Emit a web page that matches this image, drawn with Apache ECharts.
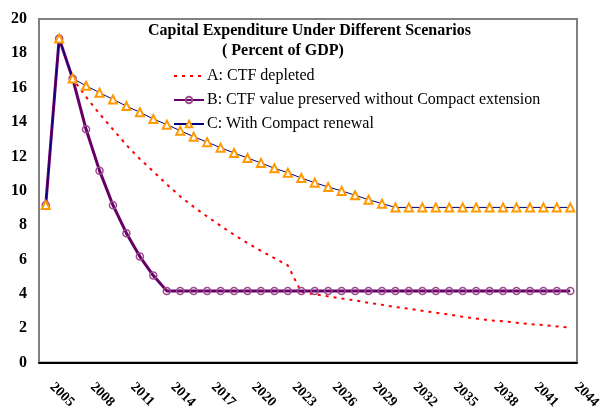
<!DOCTYPE html>
<html>
<head>
<meta charset="utf-8">
<script src="https://cdn.jsdelivr.net/npm/echarts@6/dist/echarts.min.js"></script>
<style>
  html, body { margin: 0; padding: 0; background: #fff; }
  #myChart { width: 604px; height: 412px; }
</style>
</head>
<body>
<div id="myChart"></div>
<script>
var years = ['2005','2006','2007','2008','2009','2010','2011','2012','2013','2014',
  '2015','2016','2017','2018','2019','2020','2021','2022','2023','2024',
  '2025','2026','2027','2028','2029','2030','2031','2032','2033','2034',
  '2035','2036','2037','2038','2039','2040','2041','2042','2043','2044'];

// A: CTF depleted
var ctfDepleted = [9.17, 18.87, 16.54, 15.46, 14.48, 13.57, 12.66, 11.85, 11.12, 10.37,
  9.67, 9.06, 8.50, 7.96, 7.44, 6.95, 6.50, 6.08, 5.65, 4.10,
  3.97, 3.85, 3.73, 3.61, 3.48, 3.36, 3.23, 3.13, 3.01, 2.90,
  2.79, 2.66, 2.56, 2.46, 2.40, 2.32, 2.24, 2.18, 2.10, 2.03];

// B: CTF value preserved without Compact extension
var ctfPreserved = [9.17, 18.87, 16.54, 13.58, 11.17, 9.16, 7.53, 6.17, 5.06, 4.17,
  4.17, 4.17, 4.17, 4.17, 4.17, 4.17, 4.17, 4.17, 4.17, 4.17,
  4.17, 4.17, 4.17, 4.17, 4.17, 4.17, 4.17, 4.17, 4.17, 4.17,
  4.17, 4.17, 4.17, 4.17, 4.17, 4.17, 4.17, 4.17, 4.17, 4.17];

// C: With Compact renewal
var compactRenewal = [9.17, 18.87, 16.54, 16.11, 15.71, 15.32, 14.93, 14.57, 14.18, 13.85,
  13.50, 13.15, 12.83, 12.51, 12.20, 11.91, 11.62, 11.31, 11.05, 10.74,
  10.47, 10.22, 9.99, 9.74, 9.48, 9.25, 9.03, 9.03, 9.03, 9.03,
  9.03, 9.03, 9.03, 9.03, 9.03, 9.03, 9.03, 9.03, 9.03, 9.03];

var seriesNames = ['A: CTF depleted', 'B: CTF value preserved without Compact extension', 'C: With Compact renewal'];

var font = '"Liberation Serif", "Times New Roman", serif';

var myChart = echarts.init(document.getElementById('myChart'));
myChart.setOption({
  animation: false,
  backgroundColor: '#fff',
  textStyle: { fontFamily: font, color: '#000' },
  title: [
    {
      text: 'Capital Expenditure Under Different Scenarios',
      left: 148, top: 23, padding: 0,
      textStyle: { fontFamily: font, fontSize: 16, fontWeight: 'bold', color: '#000' }
    },
    {
      text: '( Percent of GDP)',
      left: 222, top: 43, padding: 0,
      textStyle: { fontFamily: font, fontSize: 16, fontWeight: 'bold', color: '#000' }
    }
  ],
  legend: {
    orient: 'vertical',
    left: 173,
    top: 66,
    padding: 0,
    itemWidth: 30,
    itemHeight: 8,
    itemGap: 4,
    data: [
      { name: seriesNames[0], itemStyle: { opacity: 0 } },
      { name: seriesNames[1] },
      { name: seriesNames[2] }
    ],
    textStyle: { fontFamily: font, fontSize: 16, color: '#000', lineHeight: 18, padding: [2, 0, 0, -2] }
  },
  grid: {
    left: 39, right: 27, top: 19, bottom: 49.5,
    show: true,
    borderColor: '#808080',
    borderWidth: 2
  },
  xAxis: {
    type: 'category',
    data: years,
    boundaryGap: true,
    axisLine: { lineStyle: { color: '#000', width: 2 } },
    axisTick: { inside: true, length: 5, interval: 0, lineStyle: { color: '#000', width: 1 } },
    axisLabel: {
      interval: 2,
      rotate: -45,
      margin: 16,
      padding: [0, 0, 0, 9],
      fontFamily: font,
      fontSize: 14,
      fontWeight: 'bold',
      color: '#000'
    },
    splitLine: { show: false }
  },
  yAxis: {
    type: 'value',
    min: 0,
    max: 20,
    interval: 2,
    axisLine: { show: false },
    axisTick: { show: false },
    splitLine: { show: false },
    axisLabel: {
      margin: 12,
      fontFamily: font,
      fontSize: 16,
      fontWeight: 'bold',
      color: '#000'
    }
  },
  series: [
    {
      name: seriesNames[0],
      type: 'line',
      data: ctfDepleted,
      symbol: 'none',
      lineStyle: { color: '#FF0000', width: 2, type: [3, 5], cap: 'butt' },
      itemStyle: { color: '#FF0000' }
    },
    {
      name: seriesNames[1],
      type: 'line',
      data: ctfPreserved,
      symbol: 'circle',
      symbolSize: 7,
      showAllSymbol: true,
      lineStyle: { color: '#660066', width: 3 },
      itemStyle: { color: 'rgba(0,0,0,0)', borderColor: '#9C4A8F', borderWidth: 1.5 }
    },
    {
      name: seriesNames[2],
      type: 'line',
      data: compactRenewal,
      symbol: 'emptyTriangle',
      symbolSize: 8,
      showAllSymbol: true,
      lineStyle: { color: '#000080', width: 1 },
      itemStyle: { color: '#FF9900', borderColor: '#FF9900', borderWidth: 1.5 }
    }
  ]
});
</script>
</body>
</html>
